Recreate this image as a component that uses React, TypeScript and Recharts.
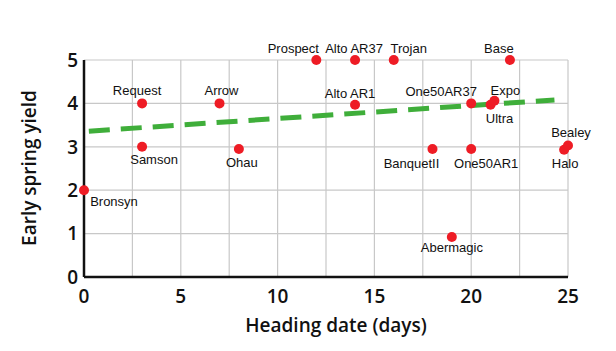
import React from 'react';
import { ComposedChart, Scatter, Line, XAxis, YAxis, CartesianGrid, Label } from 'recharts';

// cultivar names, heading date (days) and early spring yield
const names = [
  'Bronsyn', 'Request', 'Samson', 'Arrow', 'Ohau', 'Prospect', 'Alto AR37', 'Trojan', 'Base',
  'Alto AR1', 'One50AR37', 'Ultra', 'Expo', 'BanquetII', 'One50AR1', 'Halo', 'Bealey', 'Abermagic',
];
const headingDays = [0, 3, 3, 7, 8, 12, 14, 16, 22, 14, 20, 21, 21.2, 18, 20, 24.8, 25, 19];
const springYield = [2, 4, 3, 4, 2.95, 5, 5, 5, 5, 3.97, 4, 3.97, 4.06, 2.95, 2.95, 2.93, 3.03, 0.92];

// trend line end points
const trendX = [0.25, 24.3];
const trendY = [3.36, 4.08];

const xTicks = [0, 2.5, 5, 7.5, 10, 12.5, 15, 17.5, 20, 22.5, 25];
const yTicks = [0, 1, 2, 3, 4, 5];

// label placement relative to the dot (dx, dy of text baseline centre)
const labelOffset: Record<string, [number, number]> = {
  Bronsyn: [30, 16],
  Request: [-5, -8],
  Samson: [12, 17],
  Arrow: [2, -8],
  Ohau: [3, 18],
  Prospect: [-23, -7],
  'Alto AR37': [-1, -7],
  Trojan: [15, -7],
  Base: [-11, -7],
  'Alto AR1': [-5, -7],
  One50AR37: [-30, -7],
  Expo: [11, -6],
  Ultra: [9, 18],
  BanquetII: [-21, 19],
  One50AR1: [15, 19],
  Halo: [1, 18],
  Bealey: [3, -8],
  Abermagic: [0, 15],
};

const points = names.map((name, i) => ({ name, x: headingDays[i], y: springYield[i] }));
const trend = trendX.map((x, i) => ({ x, y: trendY[i] }));

const tickFont = { fontSize: 19, fontFamily: 'Open Sans', fontWeight: 600, fill: '#111' };
const titleFont = { fontSize: 19, fontFamily: 'Open Sans', fontWeight: 600, fill: '#111' };

function Dot(props: any) {
  const { cx, cy, payload } = props;
  const [dx, dy] = labelOffset[payload.name] || [0, -8];
  return (
    <g>
      <circle cx={cx} cy={cy} r={5} fill="#ee1c25" />
      <text
        x={cx + dx}
        y={cy + dy}
        textAnchor="middle"
        fontSize={13}
        fontFamily="Liberation Sans, Arial, sans-serif"
        fill="#111"
      >
        {payload.name}
      </text>
    </g>
  );
}

export default function App() {
  return (
    <div style={{ position: 'absolute', left: 0, top: 0, background: '#fff' }}>
      <ComposedChart width={616} height={351} margin={{ top: 60, right: 48, left: 0, bottom: 0 }}>
        <CartesianGrid stroke="#c8c8c8" strokeWidth={1.2} />
        <XAxis
          type="number"
          dataKey="x"
          domain={[0, 25]}
          ticks={xTicks}
          tickFormatter={(v: number) => (v % 5 === 0 ? String(v) : '')}
          tickLine={false}
          tickSize={0}
          tickMargin={13}
          height={74}
          axisLine={{ stroke: '#111', strokeWidth: 2.5 }}
          tick={tickFont}
        >
          <Label
            value="Heading date (days)"
            position="insideBottom"
            offset={19}
            dx={10}
            style={titleFont}
          />
        </XAxis>
        <YAxis
          type="number"
          dataKey="y"
          domain={[0, 5]}
          ticks={yTicks}
          tickLine={false}
          tickSize={0}
          tickMargin={6}
          width={84}
          axisLine={{ stroke: '#111', strokeWidth: 2.5 }}
          tick={tickFont}
        >
          <Label
            content={() => (
              <text
                x={31}
                y={168}
                transform="rotate(-90 31 168)"
                textAnchor="middle"
                dominantBaseline="middle"
                {...titleFont}
              >
                Early spring yield
              </text>
            )}
          />
        </YAxis>
        <Line
          data={trend}
          dataKey="y"
          type="linear"
          stroke="#3fae3a"
          strokeWidth={5}
          strokeDasharray="21 11"
          dot={false}
          activeDot={false}
          isAnimationActive={false}
        />
        <Scatter data={points} dataKey="y" shape={<Dot />} isAnimationActive={false} />
      </ComposedChart>
    </div>
  );
}
